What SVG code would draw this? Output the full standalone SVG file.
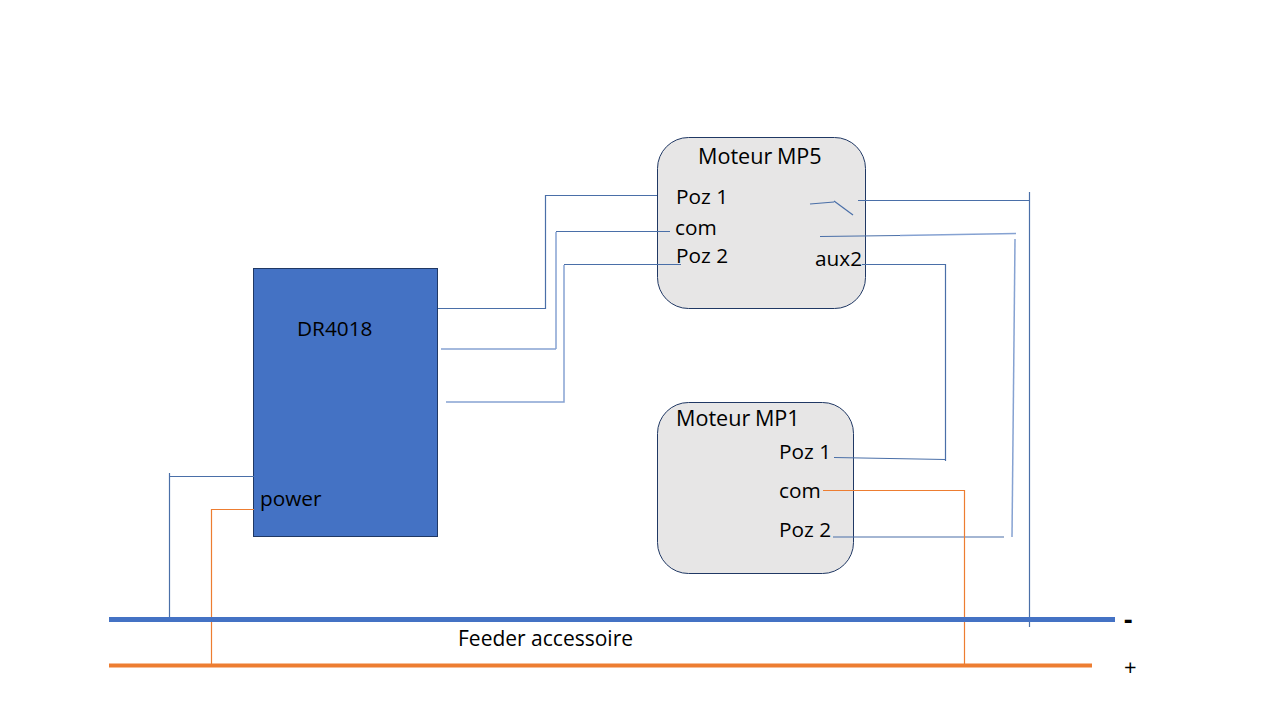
<svg xmlns="http://www.w3.org/2000/svg" width="1280" height="720" viewBox="0 0 1280 720">
<style>
text{font-family:"Open Sans","Noto Sans","DejaVu Sans",sans-serif;font-size:20.800px;fill:#000}
.title{font-size:21.600px;word-spacing:-1px}
.box{fill:#e7e6e6;stroke:#203864;stroke-width:1}
.w{fill:none;stroke:#4a6fa8;stroke-width:1.2}
.l{fill:none;stroke:#86a2d2;stroke-width:1.5}
.o{fill:none;stroke:#ed7d31;stroke-width:1.2}
</style>
<rect width="1280" height="720" fill="#fff"/>
<g id="dr4018"><rect x="253.500" y="268.500" width="184" height="268" fill="#4472c4" stroke="#203864"/><text x="297" y="335.500">DR4018</text><text x="260" y="505.500">power</text></g>
<g id="mp5"><rect class="box" x="657.500" y="137.500" width="208" height="171" rx="31"/><text class="title" x="698" y="164">Moteur MP5</text><text x="676" y="203.500">Poz 1</text><text x="675" y="234.500">com</text><text x="676" y="262.500">Poz 2</text><text x="815" y="265.500">aux2</text></g>
<g id="mp1"><rect class="box" x="657.500" y="402.500" width="196" height="171" rx="31"/><text class="title" x="676" y="425.500">Moteur MP1</text><text x="779" y="458.500">Poz 1</text><text x="779" y="497.500">com</text><text x="779" y="536.500">Poz 2</text></g>
<g id="connectors">
<path class="w" d="M438 308.500H545.500V195.500H657"/>
<path class="l" d="M441 349H556"/><path class="l" d="M556 349V232"/><path class="w" d="M556 231.500H670"/>
<path class="l" d="M446 402H564V265"/><path class="w" d="M564 264.500H681"/>
<path class="w" d="M810 204L834 202"/><path class="w" d="M834 201L853 215"/>
<path class="w" d="M858 200.500H1029.500"/><path class="w" d="M1029.500 192V627"/>
<path class="w" d="M820 236.500L900 235.500"/><path class="l" d="M900 235.500L1016 233.500"/><path class="l" d="M1015 239L1012 537"/>
<path class="w" d="M833 537H1004"/>
<path class="w" d="M862 264.500H945.500V461"/><path class="w" d="M834 457.500L945.500 459.500"/>
<path class="o" d="M823 490.500H964.500V665"/>
<path class="w" d="M169.500 473V618"/><path class="w" d="M169.500 476.500H254"/>
<path class="o" d="M211.500 665V509.500H254"/>
<path d="M109 619.500H1115" stroke="#4472c4" stroke-width="5" fill="none"/>
<path d="M109 665.500H1092" stroke="#ed7d31" stroke-width="4" fill="none"/>
</g>
<g id="labels"><text x="458" y="645.500" style="font-size:21px">Feeder accessoire</text><text x="1124" y="629" font-weight="700" style="font-size:26px">-</text><text x="1124" y="674.500" style="font-size:22px">+</text></g>
</svg>
